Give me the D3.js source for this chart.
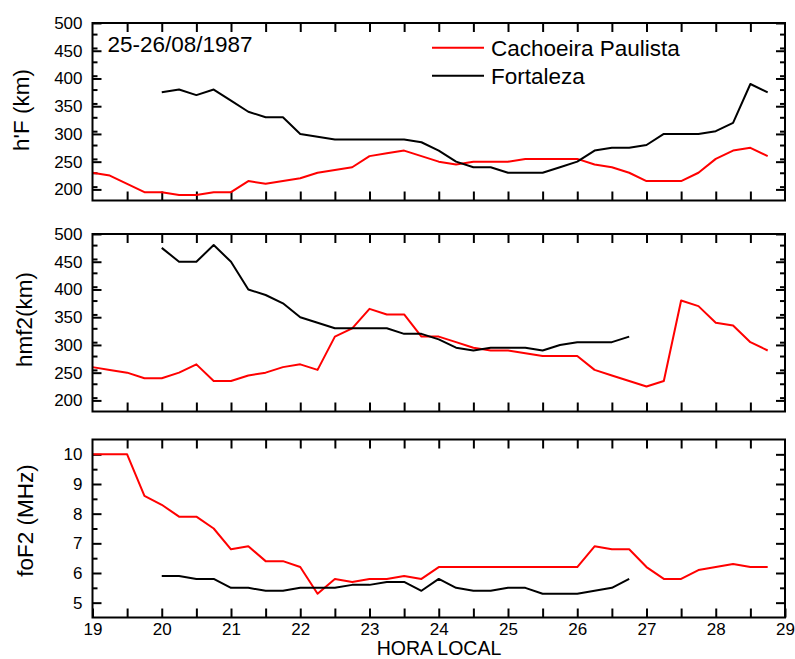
<!DOCTYPE html>
<html><head><meta charset="utf-8">
<script src="https://cdn.jsdelivr.net/npm/d3@7"></script>
<style>
html,body{margin:0;padding:0;background:#fff;}
svg{display:block;font-family:"Liberation Sans",Arial,sans-serif;}
</style></head>
<body><svg id="c" width="795" height="659"></svg>
<script>
// ---- Data ----
const hoursCP = [19,19.25,19.5,19.75,20,20.25,20.5,20.75,21,21.25,21.5,21.75,22,22.25,22.5,22.75,23,23.25,23.5,23.75,24,24.25,24.5,24.75,25,25.25,25.5,25.75,26,26.25,26.5,26.75,27,27.25,27.5,27.75,28,28.25,28.5,28.75];
const hFCP = [230,225,210,195,195,190,190,195,195,215,210,215,220,230,235,240,260,265,270,260,250,245,250,250,250,255,255,255,255,245,240,230,215,215,215,230,255,270,275,260];
const hmF2CP = [260,255,250,240,240,250,265,235,235,245,250,260,265,255,315,330,365,355,355,315,315,305,295,290,290,285,280,280,280,255,245,235,225,235,380,370,340,335,305,290];
const foF2CP = [10,10,10,8.6,8.3,7.9,7.9,7.5,6.8,6.9,6.4,6.4,6.2,5.3,5.8,5.7,5.8,5.8,5.9,5.8,6.2,6.2,6.2,6.2,6.2,6.2,6.2,6.2,6.2,6.9,6.8,6.8,6.2,5.8,5.8,6.1,6.2,6.3,6.2,6.2];

const hoursFZ = [20,20.25,20.5,20.75,21,21.25,21.5,21.75,22,22.25,22.5,22.75,23,23.25,23.5,23.75,24,24.25,24.5,24.75,25,25.25,25.5,25.75,26,26.25,26.5,26.75,27,27.25,27.5,27.75,28,28.25,28.5,28.75];
const hFFZ = [375,380,370,380,360,340,330,330,300,295,290,290,290,290,290,285,270,250,240,240,230,230,230,240,250,270,275,275,280,300,300,300,305,320,390,375];
const hoursFZ2 = [20,20.25,20.5,20.75,21,21.25,21.5,21.75,22,22.25,22.5,22.75,23,23.25,23.5,23.75,24,24.25,24.5,24.75,25,25.25,25.5,25.75,26,26.25,26.5,26.75];
const hmF2FZ = [475,450,450,480,450,400,390,375,350,340,330,330,330,330,320,320,310,295,290,295,295,295,290,300,305,305,305,315];
const foF2FZ = [5.9,5.9,5.8,5.8,5.5,5.5,5.4,5.4,5.5,5.5,5.5,5.6,5.6,5.7,5.7,5.4,5.8,5.5,5.4,5.4,5.5,5.5,5.3,5.3,5.3,5.4,5.5,5.8];

const xTickLabels = [19,20,21,22,23,24,25,26,27,28,29];
const hTicks = [200,250,300,350,400,450,500];
const foTicks = [5,6,7,8,9,10];
const seriesNames = ["Cachoeira Paulista","Fortaleza"];
const seriesColors = ["#ff0000","#000000"];
const yTitles = ["h'F (km)","hmf2(km)","foF2 (MHz)"];
const dateLabel = "25-26/08/1987";
const xTitle = "HORA LOCAL";

// ---- Layout ----
const svg = d3.select("#c");
const x = d3.scaleLinear().domain([19,29]).range([92.5,785]);
const panels = [
  {top:23, bottom:200.5, domain:[180,500], major:hTicks, minorStep:25, cp:hFCP, fz:hFFZ, fzH:hoursFZ, title:yTitles[0], tx:29, ty:110},
  {top:234, bottom:411.5, domain:[180,500], major:hTicks, minorStep:25, cp:hmF2CP, fz:hmF2FZ, fzH:hoursFZ2, title:yTitles[1], tx:31.5, ty:319.5},
  {top:439.5, bottom:617.5, domain:[4.5,10.5], major:foTicks, minorStep:0.5, cp:foF2CP, fz:foF2FZ, fzH:hoursFZ2, title:yTitles[2], tx:32.5, ty:520.5}
];
const fontTick = 17;
const halfHours = d3.range(19.5,29,0.5);

panels.forEach((p,i)=>{
  const y = d3.scaleLinear().domain(p.domain).range([p.bottom,p.top]);
  const minor = d3.range(p.domain[0]+p.minorStep, p.domain[1], p.minorStep).filter(v=>!p.major.some(m=>Math.abs(m-v)<1e-6));
  const g = svg.append("g");
  const isLast = i===2;
  const xb = d3.axisBottom(x).tickValues(isLast? d3.range(19,29.01,0.5):halfHours).tickSize(-9).tickPadding(5)
     .tickFormat(d=> (isLast && xTickLabels.includes(d)) ? d : "");
  g.append("g").attr("transform",`translate(0,${p.bottom})`).call(xb);
  const xt = d3.axisTop(x).tickValues(halfHours).tickSize(-9).tickFormat("");
  g.append("g").attr("transform",`translate(0,${p.top})`).call(xt);
  const yl = d3.axisLeft(y).tickValues(p.major).tickSize(-9).tickPadding(10).tickFormat(d=>d);
  g.append("g").attr("transform",`translate(${x.range()[0]},0)`).call(yl);
  const ylm = d3.axisLeft(y).tickValues(minor).tickSize(-5).tickFormat("");
  g.append("g").attr("transform",`translate(${x.range()[0]},0)`).call(ylm);
  const yr = d3.axisRight(y).tickValues(p.major).tickSize(-9).tickFormat("");
  g.append("g").attr("transform",`translate(${x.range()[1]},0)`).call(yr);
  const yrm = d3.axisRight(y).tickValues(minor).tickSize(-5).tickFormat("");
  g.append("g").attr("transform",`translate(${x.range()[1]},0)`).call(yrm);

  g.selectAll(".domain").remove();
  g.selectAll(".tick line").attr("stroke","#000").attr("stroke-width",2);
  g.selectAll(".tick text").attr("font-size",fontTick).attr("fill","#000").attr("font-family",'"Liberation Sans",Arial,sans-serif');

  const line = d3.line().x(d=>x(d[0])).y(d=>y(d[1]));
  g.append("path").datum(hoursCP.map((h,k)=>[h,p.cp[k]])).attr("d",line)
    .attr("fill","none").attr("stroke",seriesColors[0]).attr("stroke-width",2).attr("stroke-linejoin","round");
  g.append("path").datum(p.fzH.map((h,k)=>[h,p.fz[k]])).attr("d",line)
    .attr("fill","none").attr("stroke",seriesColors[1]).attr("stroke-width",2).attr("stroke-linejoin","round");

  g.append("rect").attr("x",x.range()[0]).attr("y",p.top)
    .attr("width",x.range()[1]-x.range()[0]).attr("height",p.bottom-p.top)
    .attr("fill","none").attr("stroke","#000").attr("stroke-width",2);

  svg.append("text").attr("transform",`translate(${p.tx},${p.ty}) rotate(-90)`)
    .attr("text-anchor","middle").attr("font-size",22.5).attr("fill","#000").text(p.title);
});

svg.append("text").attr("x",107.5).attr("y",51.5).attr("font-size",22.5).text(dateLabel);
const leg = [[47.7,55.7],[75.7,84]];
seriesNames.forEach((n,i)=>{
  svg.append("line").attr("x1",432).attr("x2",484).attr("y1",leg[i][0]).attr("y2",leg[i][0])
    .attr("stroke",seriesColors[i]).attr("stroke-width",2);
  svg.append("text").attr("x",491).attr("y",leg[i][1]).attr("font-size",22.5).text(n);
});
svg.append("text").attr("x",439).attr("y",655).attr("text-anchor","middle").attr("font-size",19.5).text(xTitle);
</script>
</body></html>
